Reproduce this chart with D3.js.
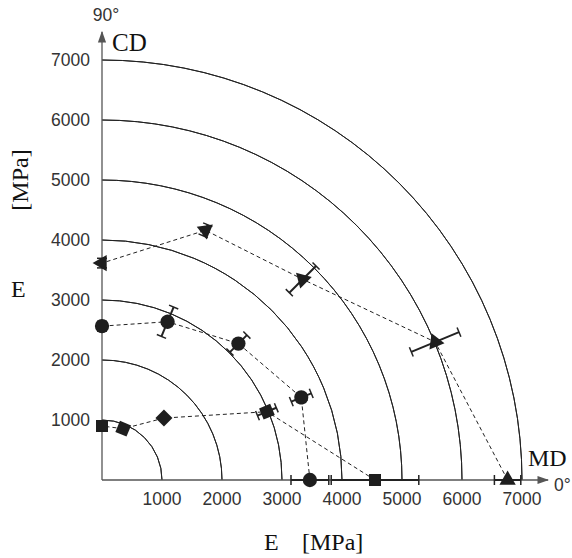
<!DOCTYPE html>
<html>
<head>
<meta charset="utf-8">
<title>Polar E modulus</title>
<script src="https://cdn.jsdelivr.net/npm/d3@7"></script>
<style>
  body { margin: 0; background: #fff; }
  .tick { font-family: "Liberation Sans", Arial, sans-serif; font-size: 17.5px; fill: #333; }
  .serif { font-family: "Liberation Serif", "Times New Roman", serif; fill: #111; }
</style>
</head>
<body>
<svg id="chart" width="572" height="558"></svg>
<script>
// angles in degrees (0 = MD, 90 = CD)
var angles = [0, 22.5, 45, 67.5, 90];
var ringValues = [1000, 2000, 3000, 4000, 5000, 6000, 7000];
var tickLabels = ["1000", "2000", "3000", "4000", "5000", "6000", "7000"];

var squareE   = [4550, 2975, 1460, 925, 900];
var squareErr = [730, 170, 0, 0, 0];
var circleE   = [3465, 3595, 3215, 2855, 2565];
var circleErr = [315, 180, 200, 265, 80];
var triE      = [6760, 6010, 4730, 4505, 3615];
var triErr    = [220, 430, 315, 100, 80];

var cx = 102, cy = 480;
var svg = d3.select("#chart");
var r = d3.scaleLinear().domain([0, 7000]).range([0, 420]);

function px(v, a) { return cx + r(v) * Math.cos(a * Math.PI / 180); }
function py(v, a) { return cy - r(v) * Math.sin(a * Math.PI / 180); }

svg.append("defs").append("marker")
  .attr("id", "arrow").attr("viewBox", "0 0 10 10")
  .attr("refX", 9).attr("refY", 5)
  .attr("markerWidth", 9).attr("markerHeight", 9)
  .attr("orient", "auto")
  .append("path").attr("d", "M0,1.5 L10,5 L0,8.5 Z").attr("fill", "#555");

// rings
var arc = d3.arc().innerRadius(d => r(d)).outerRadius(d => r(d)).startAngle(0).endAngle(Math.PI / 2);
svg.append("g").selectAll("path").data(ringValues).enter().append("path")
  .attr("transform", "translate(" + cx + "," + cy + ")")
  .attr("d", d => arc(d))
  .attr("fill", "none").attr("stroke", "#222").attr("stroke-width", 1);

// axes
svg.append("line").attr("x1", cx).attr("y1", cy).attr("x2", 548).attr("y2", cy)
  .attr("stroke", "#555").attr("stroke-width", 1.3).attr("marker-end", "url(#arrow)");
svg.append("line").attr("x1", cx).attr("y1", cy).attr("x2", cx).attr("y2", 32)
  .attr("stroke", "#555").attr("stroke-width", 1.3).attr("marker-end", "url(#arrow)");

// tick labels
svg.append("g").selectAll("text").data(ringValues).enter().append("text")
  .attr("class", "tick").attr("x", d => cx + r(d)).attr("y", cy + 19)
  .attr("dy", "0.35em").attr("text-anchor", "middle")
  .text((d, i) => tickLabels[i]);
svg.append("g").selectAll("text").data(ringValues).enter().append("text")
  .attr("class", "tick").attr("x", 90).attr("y", d => cy - r(d))
  .attr("dy", "0.35em").attr("text-anchor", "end")
  .text((d, i) => tickLabels[i]);

// labels
svg.append("text").attr("class", "tick").attr("x", 106).attr("y", 21).attr("text-anchor", "middle").text("90°");
svg.append("text").attr("class", "serif").attr("x", 112).attr("y", 51).attr("font-size", 25).text("CD");
svg.append("text").attr("class", "serif").attr("x", 528).attr("y", 466).attr("font-size", 24).text("MD");
svg.append("text").attr("class", "tick").attr("x", 554).attr("y", 491).text("0°");
svg.append("text").attr("class", "serif").attr("x", 264).attr("y", 550).attr("font-size", 24).text("E");
svg.append("text").attr("class", "serif").attr("x", 302).attr("y", 550).attr("font-size", 24).text("[MPa]");
svg.append("text").attr("class", "serif").attr("x", 11).attr("y", 297).attr("font-size", 24).text("E");
svg.append("text").attr("class", "serif").attr("font-size", 24)
  .attr("transform", "translate(28,180) rotate(-90)").attr("text-anchor", "middle").text("[MPa]");

var series = [
  { vals: squareE, err: squareErr, sym: d3.symbolSquare, size: 145 },
  { vals: circleE, err: circleErr, sym: d3.symbolCircle, size: 160 },
  { vals: triE, err: triErr, sym: d3.symbolTriangle, size: 115 }
];

var line = d3.line().x(d => px(d.v, d.a)).y(d => py(d.v, d.a));

series.forEach(function(s) {
  var pts = angles.map((a, i) => ({ a: a, v: s.vals[i], e: s.err[i] }));
  var g = svg.append("g");
  g.append("path").attr("d", line(pts)).attr("fill", "none")
    .attr("stroke", "#222").attr("stroke-width", 1).attr("stroke-dasharray", "4,3");

  // radial error bars
  var eb = g.selectAll("g.eb").data(pts.filter(d => d.e > 0)).enter().append("g")
    .attr("transform", d => "translate(" + px(d.v, d.a) + "," + py(d.v, d.a) + ") rotate(" + (-d.a) + ")");
  eb.append("line").attr("x1", d => -(r(d.e))).attr("x2", d => r(d.e)).attr("y1", 0).attr("y2", 0)
    .attr("stroke", "#222").attr("stroke-width", 2);
  eb.append("line").attr("x1", d => -r(d.e)).attr("x2", d => -r(d.e)).attr("y1", -5).attr("y2", 5)
    .attr("stroke", "#222").attr("stroke-width", 1.5);
  eb.append("line").attr("x1", d => r(d.e)).attr("x2", d => r(d.e)).attr("y1", -5).attr("y2", 5)
    .attr("stroke", "#222").attr("stroke-width", 1.5);

  g.selectAll("path.mk").data(pts).enter().append("path").attr("class", "mk")
    .attr("d", d3.symbol().type(s.sym).size(s.size))
    .attr("transform", d => "translate(" + px(d.v, d.a) + "," + py(d.v, d.a) + ") rotate(" + (-d.a) + ")")
    .attr("fill", "#1e1e1e");
});
</script>
</body>
</html>
